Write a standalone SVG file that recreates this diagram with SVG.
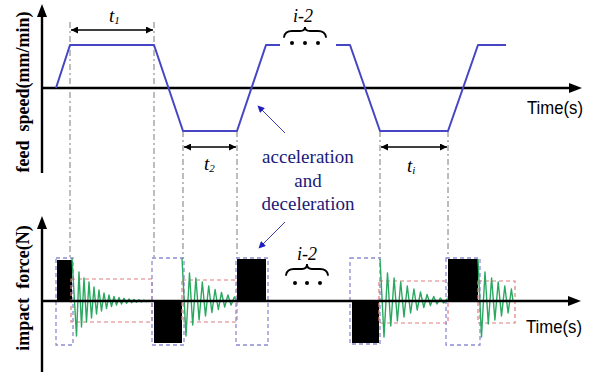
<svg xmlns="http://www.w3.org/2000/svg" width="590" height="372" viewBox="0 0 590 372">
<defs>
<style>
.ax{stroke:#000;stroke-width:2.4;fill:none}
.ah{fill:#000}
.guide{stroke:#7a7a7a;stroke-width:1;stroke-dasharray:6 3 2 3;fill:none}
.speed{stroke:#4646c4;stroke-width:2;fill:none;stroke-linejoin:round}
.dim{stroke:#000;stroke-width:1.3;fill:none;marker-start:url(#ka);marker-end:url(#ka)}
.blk{fill:#000}
.pbox{fill:none;stroke:#8c8cd2;stroke-width:1.3;stroke-dasharray:4 3}
.rbox{fill:none;stroke:#e07c7c;stroke-width:1.2;stroke-dasharray:4 3}
.wave{fill:none;stroke:#2aa860;stroke-width:1.4;stroke-linejoin:round}
.brace{fill:none;stroke:#000;stroke-width:1.8;stroke-linecap:round}
.dot{fill:#000}
.ylab{font-family:"Liberation Serif",serif;font-weight:bold;font-size:18px;fill:#000}
.time{font-family:"Liberation Sans",sans-serif;font-size:19px;fill:#000}
.ti{font-family:"Liberation Serif",serif;font-style:italic;font-size:19px;fill:#000}
.sub{font-size:11px}
.ann{font-family:"Liberation Serif",serif;font-size:19px;fill:#1a1a78}
.bl{stroke:#3c3cb4;stroke-width:1;marker-end:url(#ba)}
</style>
<marker id="ka" viewBox="0 0 10 10" refX="10" refY="5" markerWidth="9" markerHeight="7" markerUnits="userSpaceOnUse" orient="auto-start-reverse">
<path d="M0,0 L10,5 L0,10 z" fill="#000"/>
</marker>
<marker id="ba" viewBox="0 0 10 10" refX="9" refY="5" markerWidth="9" markerHeight="7" markerUnits="userSpaceOnUse" orient="auto">
<path d="M0,0 L10,5 L0,10 z" fill="#2020c0"/>
</marker>
</defs>
<rect width="590" height="372" fill="#fff"/>

<g id="guides">
<line class="guide" x1="70" y1="22" x2="70" y2="258"/>
<line class="guide" x1="154" y1="22" x2="154" y2="258"/>
<line class="guide" x1="183" y1="131" x2="183" y2="258"/>
<line class="guide" x1="237" y1="131" x2="237" y2="258"/>
<line class="guide" x1="380" y1="131" x2="380" y2="258"/>
<line class="guide" x1="448" y1="131" x2="448" y2="258"/>
</g>

<g id="top-axes">
<line class="ax" x1="42" y1="14" x2="42" y2="173"/>
<polygon class="ah" points="42,4 37,17 47,17"/>
<line class="ax" x1="42" y1="88" x2="570" y2="88"/>
<polygon class="ah" points="582,88 569,83 569,93"/>
<text class="time" x="527" y="114" textLength="56" lengthAdjust="spacingAndGlyphs">Time(s)</text>
<text class="ylab" transform="translate(29,92) rotate(-90)" text-anchor="middle" xml:space="preserve">feed  speed(mm/min)</text>
</g>

<g id="speed-profile">
<polyline class="speed" points="56,88 70,45 154,45 183,131 237,131 266,45 280,45"/>
<polyline class="speed" points="336,45 350,45 380,131 448,131 478,45 506,45"/>
</g>

<g id="dimensions">
<line class="dim" x1="71" y1="30" x2="153" y2="30"/>
<text class="ti" x="109" y="22">t<tspan class="sub" dy="2">1</tspan></text>
<line class="dim" x1="184" y1="147" x2="236" y2="147"/>
<text class="ti" x="204" y="170">t<tspan class="sub" dy="2">2</tspan></text>
<line class="dim" x1="381" y1="147" x2="447" y2="147"/>
<text class="ti" x="407" y="172">t<tspan class="sub" dy="2">i</tspan></text>
</g>

<g id="repeat-top">
<text class="ti" x="303" y="22" text-anchor="middle" style="font-size:18px">i-2</text>
<path class="brace" d="M284,37 Q285,31 292,31 L300,31 Q305,31 305,27 Q305,31 310,31 L318,31 Q325,31 326,37"/>
<circle class="dot" cx="292" cy="43" r="2"/>
<circle class="dot" cx="305" cy="43" r="2"/>
<circle class="dot" cx="318" cy="43" r="2"/>
</g>

<g id="annotation">
<text class="ann" x="308" y="163" text-anchor="middle">acceleration</text>
<text class="ann" x="308" y="187" text-anchor="middle">and</text>
<text class="ann" x="308" y="210" text-anchor="middle">deceleration</text>
</g>

<g id="connectors">
<line class="bl" x1="285" y1="133" x2="258" y2="106"/>
<line class="bl" x1="285" y1="222" x2="259" y2="248"/>
</g>

<g id="bottom-axes">
<line class="ax" x1="42" y1="226" x2="42" y2="372"/>
<polygon class="ah" points="42,216 37,229 47,229"/>
<text class="time" x="526" y="333" textLength="56" lengthAdjust="spacingAndGlyphs">Time(s)</text>
<text class="ylab" transform="translate(29,288) rotate(-90)" text-anchor="middle" xml:space="preserve">impact  force(N)</text>
</g>

<g id="pulse-1">
<rect class="blk" x="57" y="260" width="15" height="41"/>
<rect class="pbox" x="56" y="258" width="17" height="87"/>
<rect class="rbox" x="71" y="279" width="81" height="43"/>
<polyline class="wave" points="72,258 76.5,336 79,272 81.5,327 84,278 86.5,322 89,282 91.5,318 94,287 96.5,314 99,290 101.5,311 104,293 106.5,308.5 109,295 111.5,306.5 114,296.5 116.5,305 119,297.5 121.5,304 124,298.3 126.5,303.3 129,299 131.5,302.7 134,299.5 136.5,302.3 139,299.8 141.5,302 144,300.1 146.5,301.7 149,300.4 151,301"/>
</g>

<g id="pulse-2">
<rect class="blk" x="154" y="301" width="28" height="42"/>
<rect class="pbox" x="152" y="258" width="32" height="87"/>
<rect class="rbox" x="182" y="280" width="55" height="42"/>
<polyline class="wave" points="182,258 186,336 189.5,273 192.7,325 195.9,278 199.1,320 202.3,282 205.5,316 208.7,286 211.9,312.5 215.1,289.5 218.3,309.5 221.5,292.5 224.7,307 227.9,295 231.1,305 234.3,297 237,301"/>
</g>

<g id="pulse-3">
<rect class="blk" x="237" y="259" width="29" height="42"/>
<rect class="pbox" x="236" y="258" width="32" height="87"/>
</g>

<g id="repeat-bottom">
<text class="ti" x="307" y="260" text-anchor="middle" style="font-size:18px">i-2</text>
<path class="brace" d="M286,275 Q287,269 294,269 L302,269 Q307,269 307,264 Q307,269 312,269 L320,269 Q327,269 328,275"/>
<circle class="dot" cx="295" cy="283" r="2"/>
<circle class="dot" cx="307" cy="283" r="2"/>
<circle class="dot" cx="320" cy="283" r="2"/>
</g>

<g id="pulse-4">
<rect class="blk" x="352" y="301" width="27" height="42"/>
<rect class="pbox" x="350" y="258" width="30" height="86"/>
<rect class="rbox" x="379" y="281" width="69" height="42"/>
<polyline class="wave" points="380,259 384,337 387.5,273 390.8,326 394.1,278 397.4,321 400.7,282 404,317 407.3,286 410.6,313 413.9,289 417.2,310 420.5,292 423.8,307.5 427.1,294.5 430.4,305.5 433.7,296.5 437,304 440.3,298 443.6,303 446.9,299 448,301"/>
</g>

<g id="pulse-5">
<rect class="blk" x="448" y="259" width="30" height="42"/>
<rect class="pbox" x="446" y="258" width="34" height="87"/>
<rect class="rbox" x="478" y="281" width="37" height="42"/>
<polyline class="wave" points="478,259 481.5,337 485,272 488.3,324 491.6,278 494.9,320 498.2,282 501.5,316 504.8,286 508.1,313 511.4,289 513,301"/>
</g>

<g id="bottom-time-axis">
<line class="ax" x1="42" y1="301" x2="569" y2="301"/>
<polygon class="ah" points="581,301 568,296 568,306"/>
</g>
</svg>
